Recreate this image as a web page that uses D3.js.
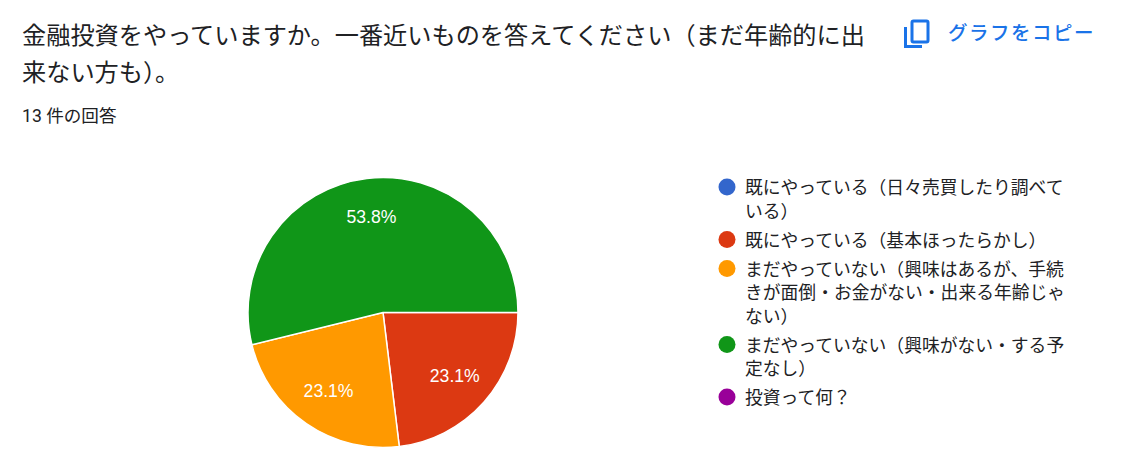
<!DOCTYPE html>
<html>
<head>
<meta charset="utf-8">
<script src="https://cdn.jsdelivr.net/npm/d3@7"></script>
<style>
  body { margin: 0; background: #fff; }
  svg text { font-family: Roboto, "Noto Sans CJK JP", sans-serif; }
</style>
</head>
<body>
<div id="chart"></div>
<script>
// data
const titleText = "金融投資をやっていますか。一番近いものを答えてください（まだ年齢的に出来ない方も）。";
const responseText = "13 件の回答";
const categories = [
  "既にやっている（日々売買したり調べている）",
  "既にやっている（基本ほったらかし）",
  "まだやっていない（興味はあるが、手続きが面倒・お金がない・出来る年齢じゃない）",
  "まだやっていない（興味がない・する予定なし）",
  "投資って何？"
];
const counts = [0, 3, 3, 7, 0];
const colors = ["#3366cc", "#dc3912", "#ff9900", "#109618", "#990099"];

const W = 1126, H = 458;
const svg = d3.select("#chart").append("svg")
  .attr("width", W).attr("height", H);

// wrap text char by char to a max width
function wrapChars(textSel, str, maxW, x, lineH) {
  let line = "", lines = [];
  const probe = textSel.append("tspan");
  for (const ch of str) {
    probe.text(line + ch);
    if (probe.node().getComputedTextLength() > maxW && line.length) {
      lines.push(line);
      line = ch;
    } else {
      line += ch;
    }
  }
  lines.push(line);
  probe.remove();
  lines.forEach((l, i) => {
    textSel.append("tspan").attr("x", x).attr("dy", i === 0 ? 0 : lineH).text(l);
  });
  return lines.length;
}

// title
const title = svg.append("text")
  .attr("x", 22).attr("y", 36)
  .attr("dominant-baseline", "central")
  .style("font-size", "24.2px").attr("fill", "#202124");
wrapChars(title, titleText, 862, 22, 37);

svg.append("text")
  .attr("x", 22).attr("y", 116)
  .attr("dominant-baseline", "central")
  .style("font-size", "17.6px").attr("fill", "#202124")
  .text(responseText);

// copy button
const blue = "#1a73e8";
const btn = svg.append("g");
btn.append("rect").attr("x", 912).attr("y", 21).attr("width", 16).attr("height", 21)
  .attr("rx", 1.5).attr("fill", "none").attr("stroke", blue).attr("stroke-width", 3);
btn.append("path").attr("d", "M905.5,27V46.5H922")
  .attr("fill", "none").attr("stroke", blue).attr("stroke-width", 3);
btn.append("text")
  .attr("x", 948).attr("y", 33)
  .attr("dominant-baseline", "central")
  .style("font-size", "19.5px").style("font-weight", 500)
  .style("letter-spacing", "1.5px")
  .attr("fill", blue).text("グラフをコピー");

// pie
const cx = 383, cy = 312.5, r = 135;
const total = d3.sum(counts);
const pie = d3.pie().sort(null).value(d => d)
  .startAngle(Math.PI / 2).endAngle(Math.PI / 2 + 2 * Math.PI);
const arcs = pie(counts);
const arc = d3.arc().innerRadius(0).outerRadius(r);
const labelArc = d3.arc().innerRadius(r * 0.71).outerRadius(r * 0.71);

const g = svg.append("g").attr("transform", `translate(${cx},${cy})`);
g.selectAll("path.slice")
  .data(arcs.filter(d => d.value > 0))
  .join("path")
  .attr("class", "slice")
  .attr("d", arc)
  .attr("fill", d => colors[d.index])
  .attr("stroke", "#fff").attr("stroke-width", 1.5);

g.selectAll("text.pct")
  .data(arcs.filter(d => d.value > 0))
  .join("text")
  .attr("class", "pct")
  .attr("transform", d => `translate(${labelArc.centroid(d)})`)
  .attr("text-anchor", "middle")
  .attr("dominant-baseline", "central")
  .style("font-family", "'Liberation Sans', Arial, sans-serif")
  .style("font-size", "17.6px")
  .attr("fill", "#fff")
  .text(d => (d.value / total * 100).toFixed(1) + "%");

// legend
const lx = 727, tx = 745, lineH = 23.5, rowGap = 29;
let ly = 187;
categories.forEach((c, i) => {
  svg.append("circle").attr("cx", lx).attr("cy", ly).attr("r", 8.5).attr("fill", colors[i]);
  const t = svg.append("text")
    .attr("x", tx).attr("y", ly)
    .attr("dominant-baseline", "central")
    .style("font-size", "17.8px").attr("fill", "#202124");
  const n = wrapChars(t, c, 330, tx, lineH);
  ly += (n - 1) * lineH + rowGap;
});
</script>
</body>
</html>
